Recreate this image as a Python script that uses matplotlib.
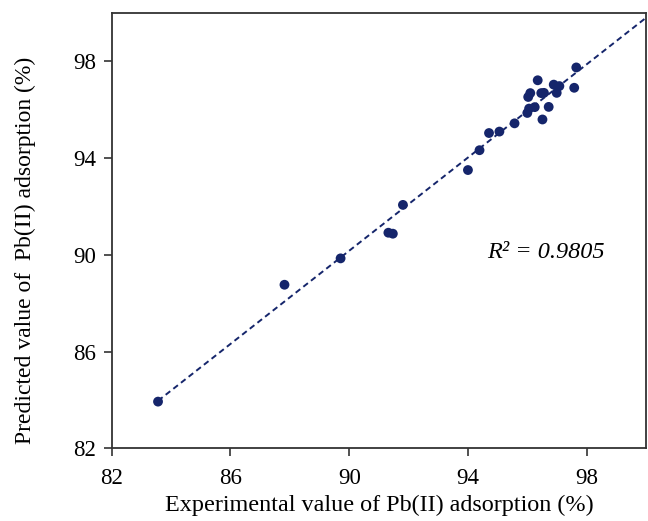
import numpy as np
import matplotlib
matplotlib.use('Agg')
import matplotlib.pyplot as plt

# experimental vs predicted Pb(II) adsorption (%)
experimental = [83.56, 87.82, 89.71, 91.32, 91.47, 91.81, 94.00, 94.39, 94.71, 95.06,
                95.57, 96.00, 96.06, 96.25, 96.03, 96.10, 96.35, 96.47, 96.56, 96.51,
                96.72, 96.89, 96.99, 97.08, 97.58, 97.65]
predicted = [83.93, 88.76, 89.85, 90.91, 90.87, 92.06, 93.50, 94.32, 95.03, 95.09,
             95.43, 95.86, 96.04, 96.10, 96.52, 96.68, 97.21, 96.68, 96.69, 95.59,
             96.11, 97.03, 96.69, 96.97, 96.90, 97.74]
ticks = [82, 86, 90, 94, 98]
r2_label = 'R² = 0.9805'

plt.rcParams['font.family'] = ['Liberation Serif', 'DejaVu Serif']
navy = '#15256b'

fig = plt.figure(figsize=(6.48, 5.21), dpi=100)
ax = fig.add_axes([0.1724, 0.1395, 0.8246, 0.836])

# trend line
slope, icpt = np.polyfit(experimental, predicted, 1)
xl = np.array([min(experimental), 100])
ax.plot(xl, icpt + slope * xl, linestyle=(0, (3, 2)), color=navy, lw=1.4, zorder=2)
ax.scatter(experimental, predicted, s=50, color=navy, edgecolors='none', zorder=3)

ax.text(94.65, 90.1, r2_label, fontsize=17.5, style='italic', va='center', ha='left')

ax.set_xlim(82, 100)
ax.set_ylim(82, 100)
ax.set_xticks(ticks)
ax.set_yticks(ticks)
ax.tick_params(direction='out', length=6, width=1.2, labelsize=16.5, colors='#333333',
               labelcolor='black')
ax.tick_params(axis='x', pad=8)
ax.tick_params(axis='y', pad=5)
for s in ax.spines.values():
    s.set_linewidth(1.3)
    s.set_color('#333333')

ax.set_xlabel('Experimental value of Pb(II) adsorption (%)', fontsize=17.4, labelpad=4)
ax.set_ylabel('Predicted value of  Pb(II) adsorption (%)', fontsize=17)
ax.yaxis.set_label_coords(-0.142, 0.455)

fig.savefig('out.png', dpi=100)
